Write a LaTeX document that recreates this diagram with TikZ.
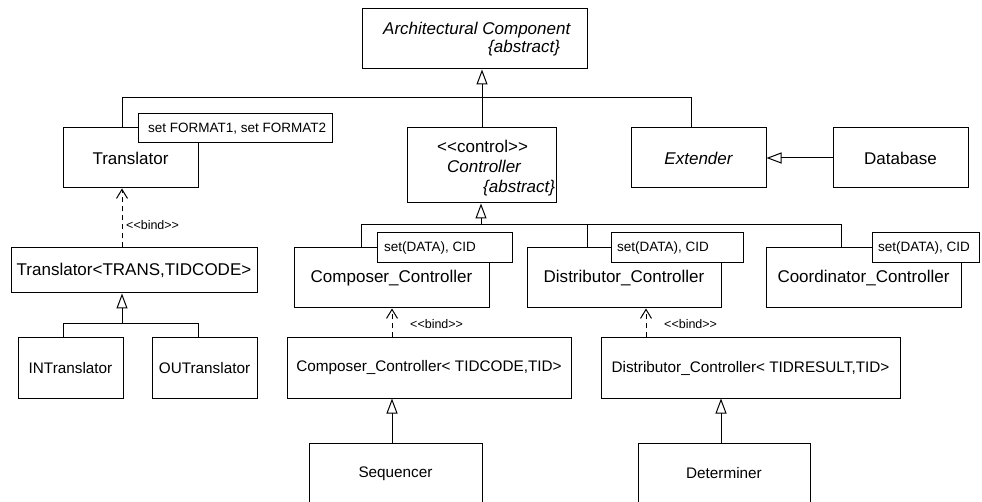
\documentclass[tikz,border=0pt]{standalone}
\usepackage{fontspec}
\setmainfont{Liberation Sans}
\usetikzlibrary{arrows.meta}
\newcommand\mainsz{\fontsize{17}{20}\selectfont}
\newcommand\innersz{\fontsize{15.3}{18}\selectfont}
\newcommand\notesz{\fontsize{13.5}{16}\selectfont}
\newcommand\bindsz{\fontsize{12.5}{15}\selectfont}
\begin{document}
\begin{tikzpicture}[x=1pt,y=-1pt,
  box/.style 2 args={draw, fill=white, line width=1pt, inner sep=0pt, minimum width=#1pt, minimum height=#2pt, font=\mainsz},
  note/.style 2 args={box={#1}{#2}},
  lbl/.style={inner sep=0pt, anchor=base west},
  nlbl/.style={inner sep=0pt, anchor=west, font=\notesz},
  blbl/.style={inner sep=0pt, anchor=west, font=\bindsz},
  line/.style={line width=1pt},
  gen/.style={line, -{Triangle[open,length=15pt,width=11pt]}},
  bind/.style={line, dash pattern=on 5pt off 4pt, -{Straight Barb[length=9pt,width=11pt]}}]
\useasboundingbox (0,0) rectangle (982,502);
\clip (0,0) rectangle (982,502);
% boxes
\node[box={225}{60}] (arch) at (474.5,39) {};
\node[lbl, font=\mainsz\itshape] (archT) at (383,35) {Architectural Component};
\node[lbl, font=\mainsz\itshape] (archA) at (488,53) {\{abstract\}};
\node[box={135}{60}] (trans) at (130.5,158) {Translator};
\node[box={149}{75}] (ctrl) at (481.5,165.5) {};
\node[lbl, font=\mainsz] (ctrlS) at (437,153) {<{}<control>{}>};
\node[lbl, font=\mainsz\itshape] (ctrlN) at (447,173) {Controller};
\node[lbl, font=\mainsz\itshape] (ctrlA) at (483,193) {\{abstract\}};
\node[box={135}{60}, font=\mainsz\itshape] (ext) at (698.5,158) {Extender};
\node[box={135}{60}] (db) at (900.5,158) {Database};
\node[box={246}{45}] (transT) at (134,270.5) {Translator<TRANS,TIDCODE>};
\node[box={105}{60}, font=\innersz] (intr) at (70.5,368) {INTranslator};
\node[box={105}{60}, font=\innersz] (outr) at (204.5,368) {OUTranslator};
\node[box={195}{60}] (comp) at (391.5,278) {Composer\_Controller};
\node[box={194}{60}] (dist) at (624,278) {Distributor\_Controller};
\node[box={195}{60}] (coord) at (863.5,278) {Coordinator\_Controller};
\node[box={284}{60}, font=\innersz] (compT) at (429,368) {Composer\_Controller< TIDCODE,TID>};
\node[box={299}{60}, font=\innersz] (distT) at (750.5,368) {Distributor\_Controller< TIDRESULT,TID>};
\node[box={173}{61}, font=\innersz] (seq) at (395.5,473.5) {Sequencer};
\node[box={172}{61}, font=\innersz] (det) at (724,473.5) {Determiner};
% connectors
\coordinate (bL) at (122,98);
\coordinate (bM) at (482,98);
\coordinate (bR) at (691,98);
\draw[line] (bL |- trans.north) -- (bL) -- (bR) -- (bR |- ext.north);
\draw[line] (bM) -- (bM |- ctrl.north);
\draw[gen] (bM) -- (bM |- arch.south);
\draw[gen] (db.west) -- (ext.east);
\draw[bind] (bL |- transT.north) -- (bL |- trans.south);
\coordinate (tM) at (122,324);
\coordinate (tL) at (63,324);
\coordinate (tR) at (198,324);
\draw[gen] (tM) -- (tM |- transT.south);
\draw[line] (tL |- intr.north) -- (tL) -- (tR) -- (tR |- outr.north);
\coordinate (cA) at (481,225);
\coordinate (cL) at (361,225);
\coordinate (cM) at (587,225);
\coordinate (cR) at (841,225);
\draw[gen] (cA) -- (cA |- ctrl.south);
\draw[line] (cL |- comp.north) -- (cL) -- (cR) -- (cR |- coord.north);
\draw[line] (cM) -- (cM |- dist.north);
\coordinate (kx) at (392,420);
\coordinate (dx) at (646,320);
\coordinate (ex) at (721,420);
\draw[bind] (kx |- compT.north) -- (kx |- comp.south);
\draw[gen] (kx |- seq.north) -- (kx |- compT.south);
\draw[bind] (dx |- distT.north) -- (dx |- dist.south);
\draw[gen] (ex |- det.north) -- (ex |- distT.south);
% bind labels
\node[blbl] (b1) at (126,225) {<{}<bind>{}>};
\node[blbl] (b2) at (410,324) {<{}<bind>{}>};
\node[blbl] (b3) at (664,324) {<{}<bind>{}>};
% notes
\node[note={194}{29}] (nT) at (235,128.5) {};
\node[nlbl] (nTt) at (148,128.5) {set FORMAT1, set FORMAT2};
\node[note={135}{30}] (n1) at (444.5,248) {};
\node[nlbl] (n1t) at (384,248) {set(DATA), CID};
\node[note={132}{30}] (n2) at (677,248) {};
\node[nlbl] (n2t) at (617,248) {set(DATA), CID};
\node[note={107}{30}] (n3) at (925.5,248) {};
\node[nlbl] (n3t) at (878,248) {set(DATA), CID};
\end{tikzpicture}
\end{document}
